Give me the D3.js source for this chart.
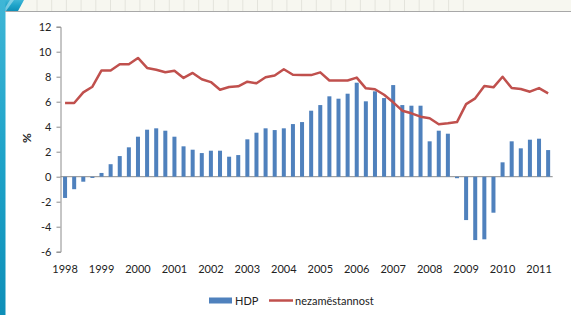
<!DOCTYPE html>
<html><head><meta charset="utf-8">
<script src="https://cdn.jsdelivr.net/npm/d3@7"></script>
<style>body{margin:0;background:#fff;}svg{display:block;}</style>
</head><body>
<svg id="c" width="571" height="315"></svg>
<script>
const years = ["1998","1999","2000","2001","2002","2003","2004","2005","2006","2007","2008","2009","2010","2011"];
const quarters = d3.range(54);
const hdp = [-1.7,-1.0,-0.4,-0.1,0.3,1.0,1.65,2.35,3.2,3.76,3.87,3.68,3.2,2.43,2.16,1.89,2.08,2.08,1.6,1.73,2.99,3.52,3.87,3.73,3.87,4.21,4.37,5.28,5.73,6.43,6.24,6.64,7.52,6.03,6.83,6.29,7.33,5.73,5.68,5.68,2.83,3.68,3.44,-0.12,-3.47,-5.07,-5.01,-2.88,1.15,2.83,2.27,2.96,3.04,2.13];
const unemp = [5.9,5.9,6.75,7.2,8.5,8.5,9.0,9.0,9.5,8.7,8.55,8.35,8.48,7.9,8.3,7.8,7.57,6.96,7.17,7.23,7.6,7.47,7.95,8.1,8.6,8.16,8.13,8.13,8.35,7.7,7.7,7.7,7.93,7.07,7.0,6.56,5.95,5.28,5.07,4.8,4.67,4.19,4.27,4.37,5.81,6.27,7.25,7.15,8.0,7.09,7.01,6.8,7.09,6.67];
const yTicks = [-6,-4,-2,0,2,4,6,8,10,12];
const seriesNames = ["HDP","nezaměstannost"];

const svg = d3.select("#c");
const font = "Lato, 'Open Sans', sans-serif";

// slide background decoration
const defs = svg.append("defs");
const g1 = defs.append("linearGradient").attr("id","blueg").attr("x1",0).attr("y1",0).attr("x2",0).attr("y2",1);
g1.append("stop").attr("offset","0").attr("stop-color","#3fb6d6");
g1.append("stop").attr("offset","0.5").attr("stop-color","#1ea3c9");
g1.append("stop").attr("offset","1").attr("stop-color","#0e8fb8");
svg.append("rect").attr("x",0).attr("y",0).attr("width",571).attr("height",11).attr("fill","#f7f7f0");
d3.range(30).forEach(i=>{
  svg.append("line").attr("x1",37+i*14.7).attr("x2",37+i*14.7).attr("y1",0).attr("y2",11).attr("stroke","#e4e4dc").attr("stroke-width",1);
});
svg.append("path").attr("d","M0,0 L24,0 L18,11 L0,11 Z").attr("fill","url(#blueg)");
svg.append("path").attr("d","M10,0 L14,0 L6,11 L3,11 Z").attr("fill","#9edcec").attr("opacity",0.7);
svg.append("rect").attr("x",0).attr("y",0).attr("width",5.5).attr("height",315).attr("fill","url(#blueg)");
svg.append("line").attr("x1",5).attr("x2",571).attr("y1",11.5).attr("y2",11.5).attr("stroke","#a8a8a8").attr("stroke-width",1);

const x = d3.scaleBand().domain(quarters).range([60.5,552.7]).paddingInner(0.56).paddingOuter(0.28);
const y = d3.scaleLinear().domain([-6,12]).range([251.7,26.7]);

// zero line
svg.append("line").attr("x1",60.5).attr("x2",552.7).attr("y1",y(0)).attr("y2",y(0)).attr("stroke","#8c8c8c").attr("stroke-width",1);

// bars
svg.append("g").selectAll("rect").data(hdp).join("rect")
  .attr("x",(d,i)=>x(i)).attr("width",x.bandwidth())
  .attr("y",d=>y(Math.max(0,d))).attr("height",d=>Math.abs(y(d)-y(0)))
  .attr("fill","#4f81bd");

// line
const line = d3.line().x((d,i)=>x(i)+x.bandwidth()/2).y(d=>y(d));
svg.append("path").datum(unemp).attr("d",line).attr("fill","none").attr("stroke","#c0504d").attr("stroke-width",2.5).attr("stroke-linejoin","round");

// y axis
const ya = svg.append("g").attr("transform","translate(60.5,0)")
  .call(d3.axisLeft(y).tickValues(yTicks).tickSize(4).tickPadding(5).tickFormat(d=>String(d)));
ya.select(".domain").attr("stroke","#8c8c8c");
ya.selectAll(".tick line").attr("stroke","#8c8c8c");
ya.selectAll("text").attr("font-family",font).attr("font-size",11).attr("fill","#222");

// x axis labels
const xa = svg.append("g").attr("transform","translate(0,251.7)")
  .call(d3.axisBottom(x).tickValues(quarters.filter(q=>q%4===0)).tickSize(0).tickPadding(14).tickFormat(q=>years[q/4]));
xa.select(".domain").remove();
xa.selectAll("text").attr("font-family",font).attr("font-size",11).attr("fill","#222");

// y label
svg.append("text").attr("transform","translate(31,138) rotate(-90)").attr("text-anchor","middle")
  .attr("font-family",font).attr("font-size",12).attr("font-weight","bold").attr("fill","#222").text("%");

// legend
svg.append("rect").attr("x",209).attr("y",297.5).attr("width",23).attr("height",6).attr("fill","#4f81bd");
svg.append("text").attr("x",235).attr("y",304.5).attr("font-family",font).attr("font-size",11).attr("fill","#222").text(seriesNames[0]);
svg.append("line").attr("x1",269).attr("x2",293).attr("y1",300.5).attr("y2",300.5).attr("stroke","#c0504d").attr("stroke-width",2.5);
svg.append("text").attr("x",295).attr("y",304.5).attr("font-family",font).attr("font-size",11).attr("fill","#222").text(seriesNames[1]);
</script>
</body></html>
